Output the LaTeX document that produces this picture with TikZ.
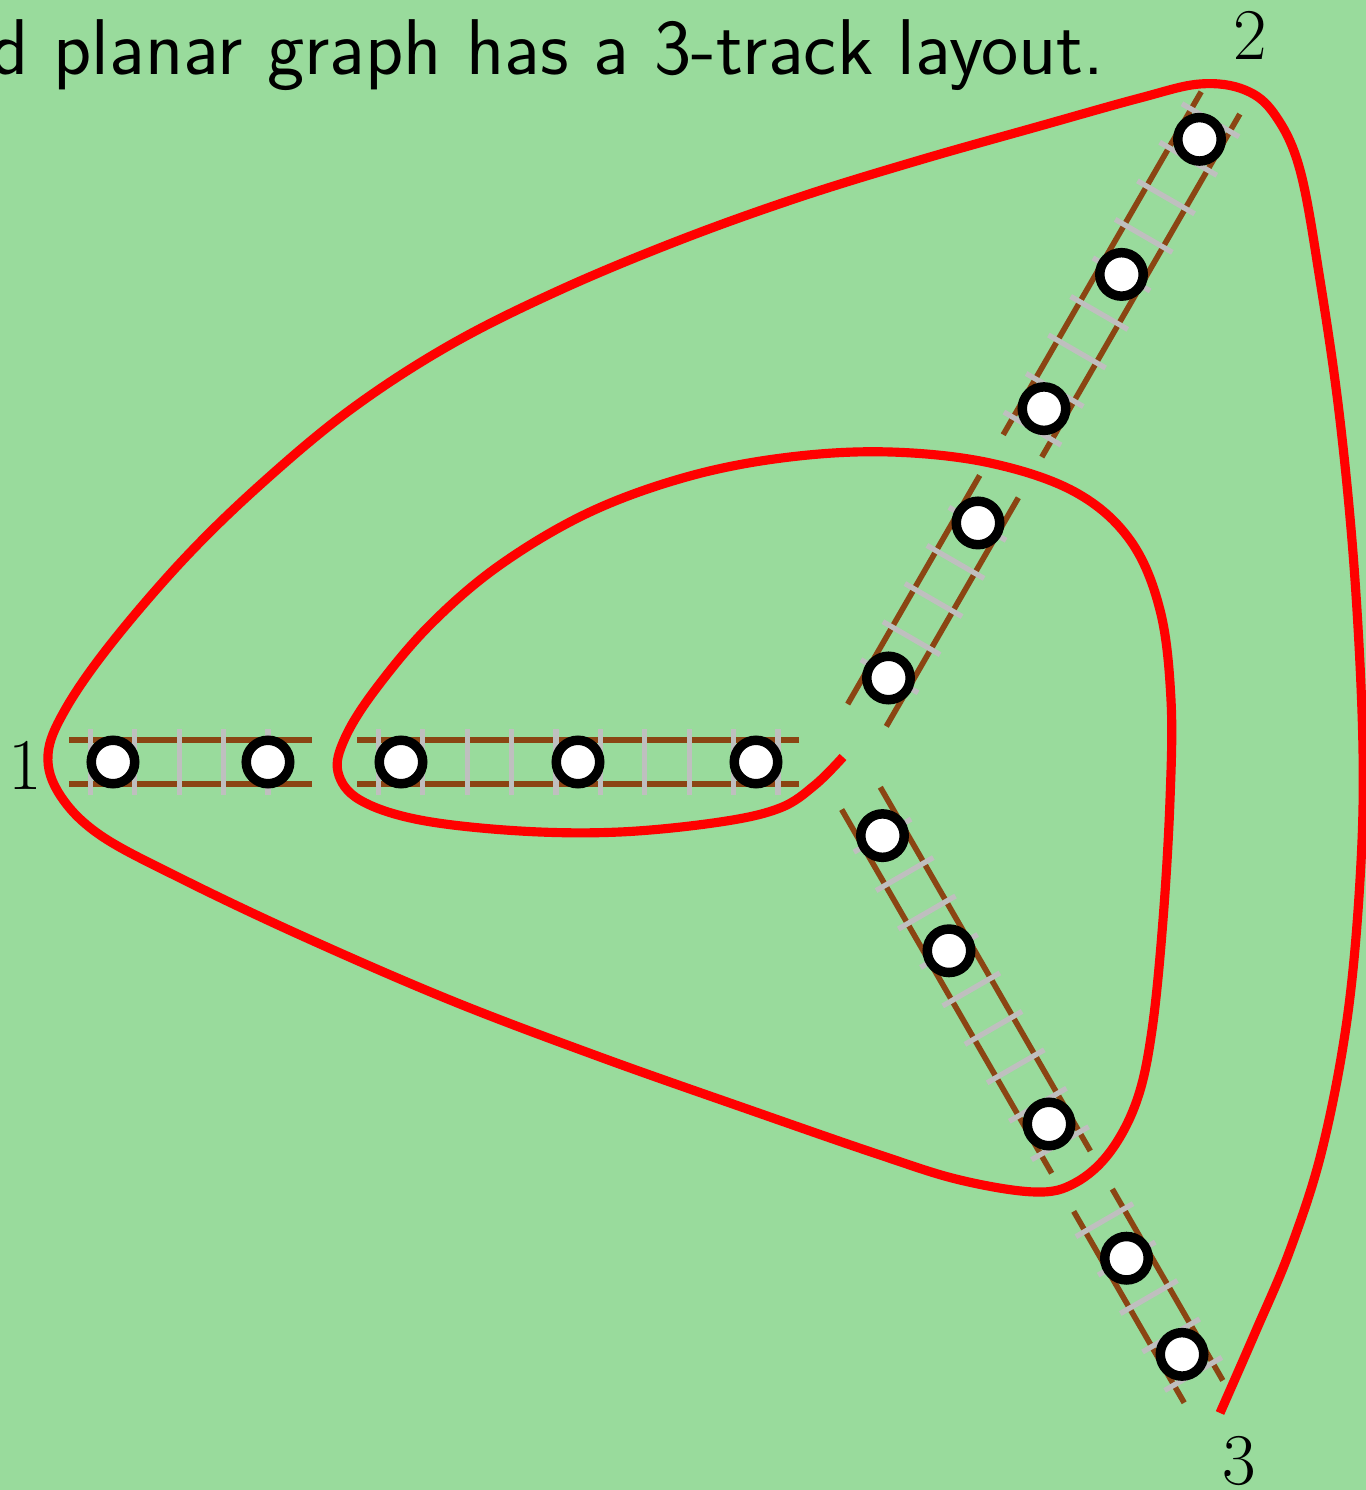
\documentclass[tikz,border=0pt]{standalone}
\usepackage{tikz}
\definecolor{slidegreen}{rgb}{0.6,0.86,0.61}
\definecolor{railbrown}{RGB}{139,69,19}

\begin{document}
\begin{tikzpicture}[
	rail/.style = {railbrown, line width = 1.6pt},
	tie/.style = {lightgray, line width = 1.5pt},
	vertex/.style = {circle, draw = black, fill = white, line width = 2.7pt, minimum size = 0.435cm, inner sep = 0pt},
	spiral/.style = {red, line width = 2.6pt},
	tracknum/.style = {inner sep = 0pt, font = \fontsize{21}{25}\selectfont}
	]
	\useasboundingbox (-8.4,-7.28) rectangle (5.26,7.62);
	\fill[slidegreen] (-8.4,-7.28) rectangle (5.26,7.62);
	\clip (-8.4,-7.28) rectangle (5.26,7.62);
	% track 1
	\begin{scope}[rotate = 180]
	\draw[rail] (0.41,0.223) -- (4.83,0.223) (0.41,-0.223) -- (4.83,-0.223);
	\draw[rail] (5.28,0.223) -- (7.71,0.223) (5.28,-0.223) -- (7.71,-0.223);
	\foreach \k in {0,...,9}
		\draw[tie] ({0.62+0.444*\k},-0.33) -- ++(0,0.66);
	\foreach \k in {0,...,4}
		\draw[tie] ({5.72+0.444*\k},-0.33) -- ++(0,0.66);
	\end{scope}
	% track 2
	\begin{scope}[rotate = 60]
	\draw[rail] (0.54,0.223) -- (3.18,0.223) (0.54,-0.223) -- (3.18,-0.223);
	\draw[rail] (3.65,0.223) -- (7.61,0.223) (3.65,-0.223) -- (7.61,-0.223);
	\foreach \k in {0,...,4}
		\draw[tie] ({0.99+0.44*\k},-0.33) -- ++(0,0.66);
	\foreach \k in {0,...,8}
		\draw[tie] ({3.85+0.445*\k},-0.33) -- ++(0,0.66);
	\end{scope}
	% track 3
	\begin{scope}[rotate = -60]
	\draw[rail] (0.42,0.223) -- (4.62,0.223) (0.42,-0.223) -- (4.62,-0.223);
	\draw[rail] (5.06,0.223) -- (7.27,0.223) (5.06,-0.223) -- (7.27,-0.223);
	\foreach \k in {0,...,8}
		\draw[tie] ({0.85+0.444*\k},-0.33) -- ++(0,0.66);
	\foreach \k in {0,...,4}
		\draw[tie] ({5.29+0.444*\k},-0.33) -- ++(0,0.66);
	\end{scope}
	% vertices
	\foreach \d [count = \i] in {0.84,2.62,4.39,5.72,7.27}
		\node[vertex] (a\i) at (180:\d) {};
	\foreach \d [count = \i] in {0.97,2.76,4.08,5.63,7.19}
		\node[vertex] (b\i) at (60:\d) {};
	\foreach \d [count = \i] in {0.85,2.18,4.18,5.73,6.84}
		\node[vertex] (c\i) at (-60:\d) {};
	% the spiral
	\draw[spiral] plot[smooth, tension = 0.6] coordinates {
		(0.03,0.05) (-0.25,-0.23) (-0.60,-0.46) (-1.20,-0.60) (-2.20,-0.70)
		(-3.20,-0.69) (-4.20,-0.58) (-4.80,-0.38) (-5.02,-0.10) (-4.95,0.24)
		(-4.65,0.72) (-4.10,1.37) (-3.40,1.97) (-2.50,2.50) (-1.50,2.86)
		(-0.50,3.05) (0.50,3.10) (1.50,2.99) (2.35,2.70) (2.90,2.22)
		(3.20,1.52) (3.31,0.62) (3.30,-0.38) (3.23,-1.58) (3.12,-2.68)
		(2.97,-3.38) (2.70,-3.90) (2.35,-4.21) (1.95,-4.30) (1.20,-4.18)
		(0.40,-3.93) (-0.90,-3.48) (-2.40,-2.95) (-3.90,-2.38) (-5.40,-1.73)
		(-6.60,-1.16) (-7.40,-0.73) (-7.80,-0.33) (-7.92,0.07) (-7.75,0.52)
		(-7.30,1.17) (-6.57,2.02) (-5.80,2.77) (-4.90,3.52) (-3.90,4.17)
		(-2.80,4.72) (-1.60,5.22) (-0.40,5.65) (0.80,6.02) (2.00,6.36)
		(3.00,6.64) (3.60,6.78) (4.05,6.72) (4.35,6.47) (4.60,5.92)
		(4.80,4.82) (5.00,3.42) (5.15,1.82) (5.23,0.12) (5.20,-1.18)
		(5.07,-2.58) (4.82,-3.88) (4.50,-4.88) (4.15,-5.71) (3.80,-6.51)};
	% labels
	\node[tracknum] (one) at (-8.15,-0.04) {$1$};
	\node[tracknum] (two) at (4.10,7.26) {$2$};
	\node[tracknum] (three) at (3.99,-6.99) {$3$};
	\node[anchor = base east, inner sep = 0pt, font = \sffamily\fontsize{22.5}{27}\selectfont] (title) at (2.65,6.87) {d planar graph has a 3-track layout.};
\end{tikzpicture}
\end{document}
